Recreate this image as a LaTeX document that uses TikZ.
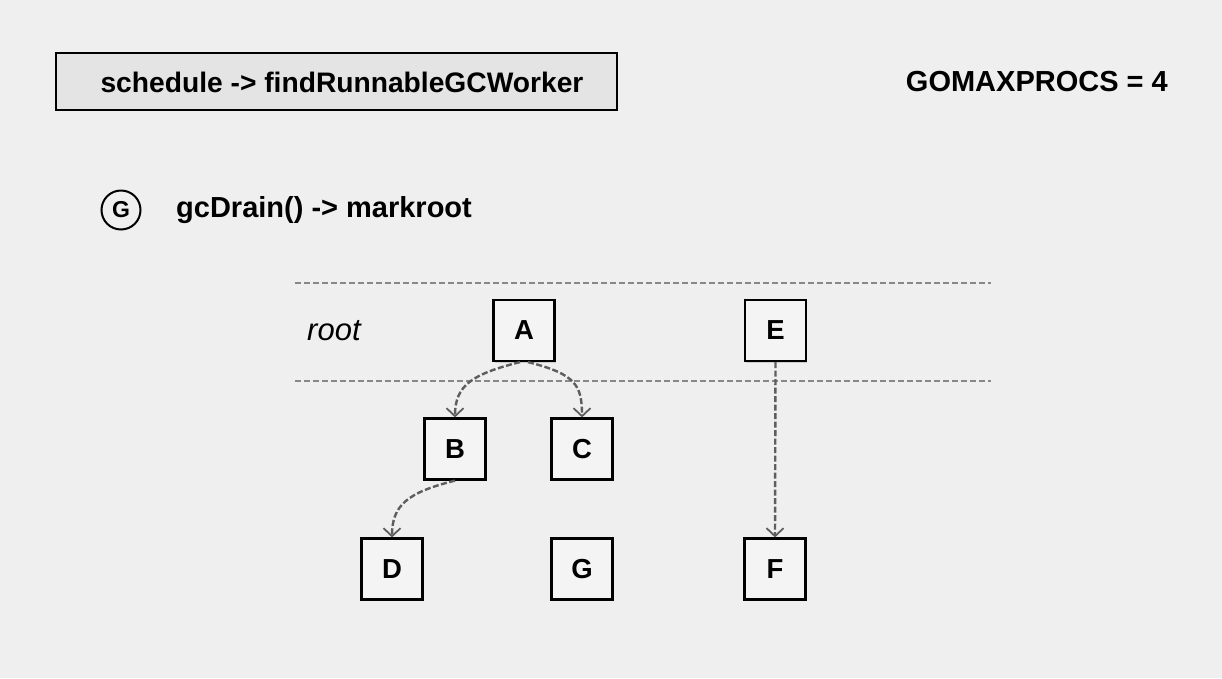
\documentclass[tikz,border=0pt]{standalone}
\usepackage{fontspec}
\setmainfont{Liberation Sans}
\usetikzlibrary{arrows.meta,shadows}
\definecolor{bg}{HTML}{EFEFEF}
\definecolor{titlefill}{HTML}{E4E4E4}
\definecolor{boxfill}{HTML}{F4F4F4}
\definecolor{sepline}{HTML}{888888}
\definecolor{arrowcol}{HTML}{5E5E5E}
\tikzset{
  objbox/.style={draw=black, line width=2.2pt, fill=boxfill, minimum width=61pt, minimum height=61pt, inner sep=0pt, font=\fontsize{27.5}{29}\selectfont\bfseries, drop shadow={shadow xshift=1pt, shadow yshift=-1.5pt, opacity=0.3}},
  sep/.style={draw=sepline, line width=1.3pt, dash pattern=on 6pt off 3pt},
  ref/.style={draw=arrowcol, line width=2.4pt, dash pattern=on 6pt off 2.5pt, -{Straight Barb[length=8pt, width=17pt, line width=1.8pt]}},
  bigtext/.style={font=\fontsize{29}{31}\selectfont\bfseries, inner sep=0pt}
}
\begin{document}
\begin{tikzpicture}[x=1pt,y=-1pt]
\useasboundingbox[fill=bg] (0,0) rectangle (1222,678);
% title box
\node[draw=black, line width=1.8pt, fill=titlefill, minimum width=561pt, minimum height=57pt, inner sep=0pt] (title) at (336.5,81.5) {};
\node[bigtext, font=\fontsize{28.2}{30}\selectfont\bfseries] (titletext) at (342,82) {schedule -> findRunnableGCWorker};
\node[bigtext, anchor=east] (procs) at (1168,82) {GOMAXPROCS = 4};
% G circle and label
\node[draw=black, line width=2pt, circle, minimum size=39pt, inner sep=0pt, font=\fontsize{23}{25}\selectfont\bfseries] (gc) at (121,210) {G};
\node[bigtext, anchor=west] (drain) at (176,210.5) {gcDrain() -> markroot};
% separators
\coordinate (s1a) at (295,283);
\coordinate (s1b) at (991,283);
\coordinate (s2a) at (295,381);
\coordinate (s2b) at (991,381);
\draw[sep] (s1a) -- (s1b);
\draw[sep] (s2a) -- (s2b);
\node[font=\fontsize{31}{33}\selectfont\itshape, anchor=west, inner sep=0pt] (root) at (307,331) {root};
% objects
\node[objbox] (A) at (524,330.5) {A};
\node[objbox] (E) at (775.5,330.5) {E};
\node[objbox] (B) at (455,449) {B};
\node[objbox] (C) at (582,449) {C};
\node[objbox] (D) at (392,569) {D};
\node[objbox] (G) at (582,569) {G};
\node[objbox] (F) at (775,569) {F};
% references
\draw[ref] ([xshift=-4pt]A.south) .. controls +(-48,12) and +(0,-32) .. (B.north);
\draw[ref] ([xshift=4pt]A.south) .. controls +(48,12) and +(0,-32) .. (C.north);
\draw[ref] (B.south) .. controls +(-48,12) and +(0,-32) .. (D.north);
\draw[ref] (E.south) -- (F.north);
\end{tikzpicture}
\end{document}
